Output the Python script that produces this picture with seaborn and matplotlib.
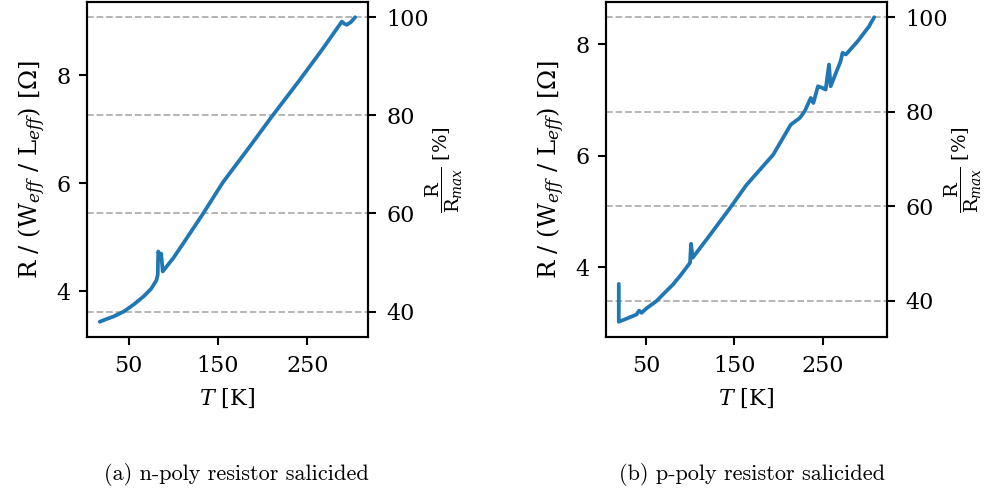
import matplotlib
matplotlib.use("Agg")
import matplotlib.pyplot as plt
import pandas as pd
import seaborn as sns

# Sheet resistance vs. temperature, n-poly salicided resistor
T_npoly = [17.4, 25, 33.3, 44.4, 55.6, 66.7, 75, 80.8, 82.4, 83.0, 85.2, 86.3, 88.0,
           100, 111.1, 133.3, 155.6, 185.2, 211.1, 240.7, 266.7, 288.9, 291.5, 294.4,
           299, 303.8]
R_npoly = [3.44, 3.49, 3.54, 3.63, 3.76, 3.91, 4.05, 4.20, 4.30, 4.74, 4.65, 4.70, 4.37,
           4.62, 4.89, 5.44, 6.02, 6.67, 7.25, 7.89, 8.47, 8.99, 8.95, 8.93,
           8.98, 9.07]

# Sheet resistance vs. temperature, p-poly salicided resistor
T_ppoly = [18.6, 18.6, 25, 38.7, 41.7, 44.4, 50, 61.3, 70, 80.2, 90, 99.5, 100.6, 102.5,
           118.4, 144.8, 163.7, 193.9, 213.9, 224.1, 229.7, 236.6, 239.6, 244.8, 249.8,
           253.5, 257.3, 259.2, 270.5, 272.7, 276.5, 290, 303, 305, 308.7]
R_ppoly = [3.70, 3.02, 3.06, 3.15, 3.22, 3.18, 3.26, 3.39, 3.53, 3.69, 3.88, 4.08, 4.42, 4.17,
           4.50, 5.06, 5.48, 6.02, 6.56, 6.68, 6.80, 7.04, 6.95, 7.25, 7.22,
           7.19, 7.64, 7.25, 7.70, 7.85, 7.82, 8.06, 8.33, 8.39, 8.49]

x_ticks = [50, 150, 250]
left_ticks = [4, 6, 8]
pct_ticks = [40, 60, 80, 100]
captions = ["(a) n-poly resistor salicided", "(b) p-poly resistor salicided"]

sns.set_theme(style="ticks")
plt.rcParams["font.family"] = ["DejaVu Serif"]
plt.rcParams["mathtext.fontset"] = "dejavuserif"
plt.rcParams["text.color"] = "black"
plt.rcParams["axes.labelcolor"] = "black"
plt.rcParams["xtick.color"] = "black"
plt.rcParams["ytick.color"] = "black"

fig = plt.figure(figsize=(9.87, 4.95), dpi=100)
positions = [[0.0881, 0.3192, 0.2847, 0.6768], [0.614, 0.3192, 0.2847, 0.6768]]
datasets = [(T_npoly, R_npoly), (T_ppoly, R_ppoly)]
caption_x = [236 / 987, 752 / 987]

for pos, (T, R), cap, cx in zip(positions, datasets, captions, caption_x):
    ax = fig.add_axes(pos)
    ax2 = ax.twinx()
    df = pd.DataFrame({"T": T, "R": R})
    sns.lineplot(data=df, x="T", y="R", ax=ax, sort=False, estimator=None,
                 color="#1f77b4", lw=2.7)
    ax.set_xticks(x_ticks)
    ax.set_yticks(left_ticks)
    ax.set_xlabel(r"$T$ [K]", fontsize=16, labelpad=7)
    ax.set_ylabel(r"R / (W$_{eff}$ / L$_{eff}$) [$\Omega$]", fontsize=17.5, labelpad=6)

    # secondary axis: resistance relative to its maximum
    rmax = max(R)
    lo, hi = ax.get_ylim()
    ax2.set_ylim(lo / rmax * 100, hi / rmax * 100)
    ax2.set_yticks(pct_ticks)
    ax2.set_ylabel(r"$\dfrac{\mathrm{R}}{\mathrm{R}_{max}}$ [%]", fontsize=14)
    ax2.yaxis.set_label_coords(1.2, 0.5)
    ax2.grid(True, axis="y", linestyle="--", color="#b0b0b0", lw=1.3)

    ax.set_zorder(ax2.get_zorder() + 1)
    ax.patch.set_visible(False)

    for a in (ax, ax2):
        for sp in a.spines.values():
            sp.set_color("black")
            sp.set_linewidth(1.5)
        a.tick_params(labelsize=16, length=6, width=1.5, color="black")
    ax.tick_params(axis="x", pad=7)
    ax.tick_params(axis="y", pad=6)
    ax2.tick_params(axis="y", pad=7)

    fig.text(cx, 1 - 475 / 495, cap, ha="center", va="center",
             fontsize=16, family="cmr10", color="black")

fig.savefig("out.png", dpi=100)
